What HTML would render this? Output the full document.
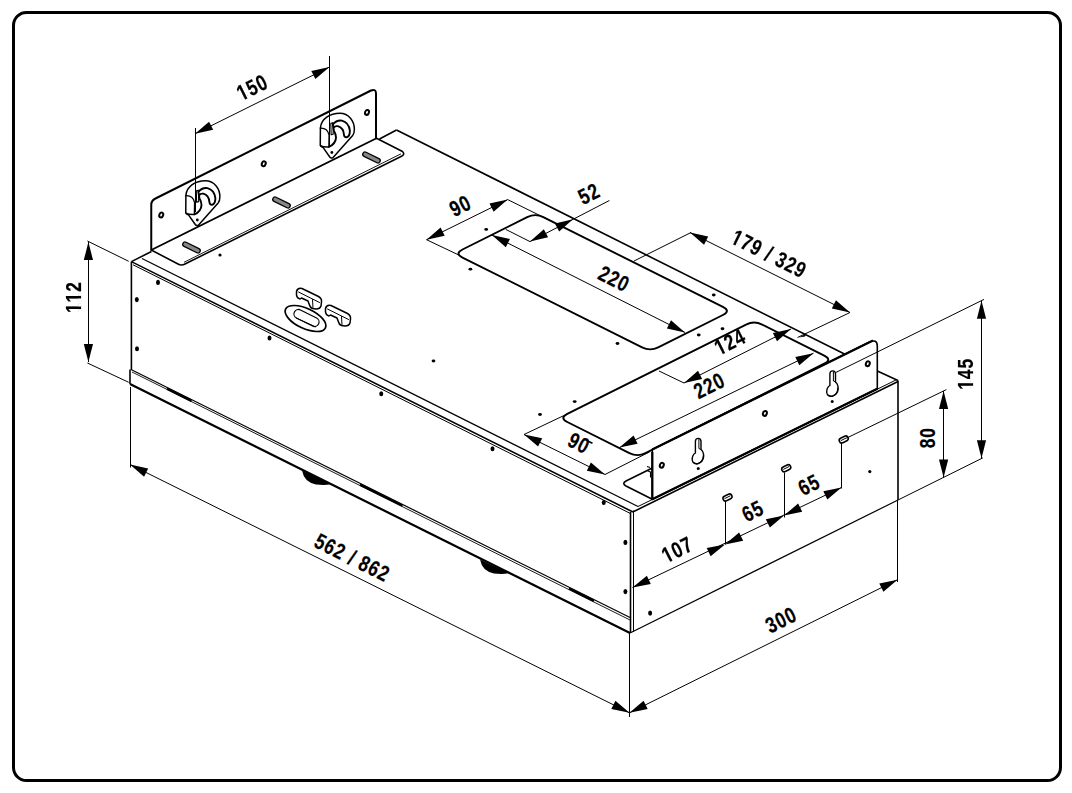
<!DOCTYPE html>
<html><head><meta charset="utf-8"><style>
html,body{margin:0;padding:0;background:#fff;}
svg{display:block;}
text{font-family:"Liberation Sans",sans-serif;}
</style></head><body>
<svg width="1072" height="793" viewBox="0 0 1072 793">
<rect width="1072" height="793" fill="#fff"/>
<rect x="13.5" y="12.5" width="1047" height="768" rx="13" fill="none" stroke="#000" stroke-width="3"/>
<line x1="131.4" y1="261.6" x2="633" y2="512" stroke="#000" stroke-width="1.6"/>
<line x1="133" y1="264.8" x2="631" y2="513.8" stroke="#000" stroke-width="1.0"/>
<line x1="142" y1="258.5" x2="638" y2="506.5" stroke="#000" stroke-width="1.2"/>
<line x1="131.4" y1="261.6" x2="151.5" y2="251.5" stroke="#000" stroke-width="1.6"/>
<line x1="379.5" y1="139" x2="396.5" y2="130" stroke="#000" stroke-width="1.6"/>
<line x1="396.5" y1="130" x2="845" y2="354.3" stroke="#000" stroke-width="1.6"/>
<line x1="877.3" y1="371" x2="898" y2="380.5" stroke="#000" stroke-width="1.6"/>
<line x1="633.8" y1="511.5" x2="898" y2="381.5" stroke="#000" stroke-width="1.6"/>
<line x1="638" y1="506.5" x2="897" y2="379.5" stroke="#000" stroke-width="1.0"/>
<line x1="131.4" y1="261.6" x2="131.4" y2="370" stroke="#000" stroke-width="1.6"/>
<line x1="630.5" y1="512" x2="630.5" y2="633" stroke="#000" stroke-width="1.6"/>
<line x1="633.5" y1="510.5" x2="633.5" y2="632" stroke="#000" stroke-width="1.0"/>
<line x1="898" y1="380.5" x2="898" y2="500" stroke="#000" stroke-width="1.6"/>
<line x1="130" y1="369.5" x2="130" y2="384" stroke="#000" stroke-width="1.6"/>
<line x1="131" y1="369.5" x2="630" y2="617.5" stroke="#000" stroke-width="1.2"/>
<line x1="132" y1="372" x2="630" y2="620" stroke="#000" stroke-width="0.9"/>
<line x1="130" y1="384" x2="630" y2="633" stroke="#000" stroke-width="2.2"/>
<line x1="167" y1="388.69" x2="191.5" y2="400.87" stroke="#000" stroke-width="2.4"/>
<line x1="360" y1="484.61" x2="402.5" y2="505.74" stroke="#000" stroke-width="2.4"/>
<line x1="569" y1="588.49" x2="594" y2="600.91" stroke="#000" stroke-width="2.4"/>
<line x1="630" y1="633" x2="898" y2="500" stroke="#000" stroke-width="1.2"/>
<path d="M302 470.5 Q304 482 316 484.5 Q326 485.5 331 484 Z" fill="#000"/>
<path d="M480 559.5 Q482 571 494 573.5 Q504 574.5 509 573 Z" fill="#000"/>
<path d="M462.5 257.53 Q454.45 253.5 462.5 249.48 L527.2 217.12 Q535.25 213.1 543.3 217.13 L722.9 306.97 Q730.95 311 722.9 315.02 L658.2 347.38 Q650.15 351.4 642.1 347.37 Z" fill="none" stroke="#000" stroke-width="1.9" stroke-linejoin="round" stroke-linecap="round"/>
<path d="M567.3 422.02 Q559.25 418 567.3 413.97 L746.05 324.58 Q754.1 320.55 762.15 324.57 L824.25 355.63 Q832.3 359.65 824.25 363.68 L645.5 453.07 Q637.45 457.1 629.4 453.08 Z" fill="none" stroke="#000" stroke-width="1.9" stroke-linejoin="round" stroke-linecap="round"/>
<path d="M151.25 250 L151.25 205 Q151.25 200.5 155.5 198.5 L371 90.5 Q376 88.5 376 93.5 L376 138.5" fill="none" stroke="#000" stroke-width="2.0" stroke-linejoin="round" stroke-linecap="round"/>
<line x1="151.25" y1="250" x2="376" y2="138.5" stroke="#000" stroke-width="1.8"/>
<path d="M151.25 250 L178 264 Q181.5 266 185 264 L401 156.5 Q405.5 154.5 402.5 151.5 L377 138.5" fill="none" stroke="#000" stroke-width="1.6" stroke-linejoin="round" stroke-linecap="round"/>
<line x1="184" y1="262.3" x2="401" y2="153.8" stroke="#000" stroke-width="0.9"/>
<rect x="182" y="245.2" width="19" height="4.6" rx="2.3" fill="#888" stroke="#000" stroke-width="1.3" transform="rotate(26.57 191.5 247.5)"/>
<rect x="272" y="200.2" width="19" height="4.6" rx="2.3" fill="#888" stroke="#000" stroke-width="1.3" transform="rotate(26.57 281.5 202.5)"/>
<rect x="362" y="155.2" width="19" height="4.6" rx="2.3" fill="#888" stroke="#000" stroke-width="1.3" transform="rotate(26.57 371.5 157.5)"/>
<ellipse cx="161.25" cy="215" rx="1.9" ry="2.5" fill="none" stroke="#000" stroke-width="2.0" transform="rotate(20 161.25 215)"/>
<ellipse cx="263.75" cy="163.75" rx="1.9" ry="2.5" fill="none" stroke="#000" stroke-width="2.0" transform="rotate(20 263.75 163.75)"/>
<ellipse cx="367" cy="112.4" rx="1.9" ry="2.5" fill="none" stroke="#000" stroke-width="2.0" transform="rotate(20 367 112.4)"/>
<circle cx="220" cy="255" r="1.6" fill="#000"/>
<path d="M185.9 195.38 C186.6 186.37 195.61 180.82 205.32 180.82 C214.33 180.82 219.88 188.45 219.88 196.77 Q219.88 200.93 218.15 203.01 L198.38 225.2 Q196.3 225.9 195.26 224.51 L188.68 215.15 Q185.9 214.11 185.76 212.72 Z" fill="none" stroke="#000" stroke-width="1.5" stroke-linejoin="round" stroke-linecap="round"/>
<path d="M185.9 195.73 Q192.84 195.38 194.57 202.32 L194.36 214.46 Q189.37 214.8 185.9 213.07" fill="none" stroke="#000" stroke-width="1.3" stroke-linejoin="round" stroke-linecap="round"/>
<path d="M194.36 214.46 Q201.16 211.33 201.51 205.09 Q201.51 201.63 199.43 198.16 L198.38 191.92 Q201.85 187.41 207.4 188.1 Q214.33 189.84 215.38 198.16 Q215.38 203.71 212.25 204.75 Q209.83 205.09 209.48 202.32 Q209.13 195.38 203.24 193.65 Q200.47 193.3 199.77 194.69" fill="none" stroke="#000" stroke-width="1.9" stroke-linejoin="round" stroke-linecap="round"/>
<path d="M196.3 190.88 L198.38 190.18 L198.73 201.63 L196.65 202.32 Z" fill="none" stroke="#000" stroke-width="1.1" stroke-linejoin="round" stroke-linecap="round"/>
<circle cx="197.34" cy="220" r="1.4" fill="#000"/>
<path d="M320.4 127.88 C321.1 118.87 330.11 113.32 339.82 113.32 C348.83 113.32 354.38 120.95 354.38 129.27 Q354.38 133.43 352.65 135.51 L332.88 157.7 Q330.8 158.4 329.76 157.01 L323.18 147.65 Q320.4 146.61 320.26 145.22 Z" fill="none" stroke="#000" stroke-width="1.5" stroke-linejoin="round" stroke-linecap="round"/>
<path d="M320.4 128.23 Q327.34 127.88 329.07 134.82 L328.86 146.96 Q323.87 147.3 320.4 145.57" fill="none" stroke="#000" stroke-width="1.3" stroke-linejoin="round" stroke-linecap="round"/>
<path d="M328.86 146.96 Q335.66 143.83 336.01 137.59 Q336.01 134.13 333.93 130.66 L332.88 124.42 Q336.35 119.91 341.9 120.6 Q348.83 122.34 349.88 130.66 Q349.88 136.21 346.75 137.25 Q344.33 137.59 343.98 134.82 Q343.63 127.88 337.74 126.15 Q334.97 125.8 334.27 127.19" fill="none" stroke="#000" stroke-width="1.9" stroke-linejoin="round" stroke-linecap="round"/>
<path d="M330.8 123.38 L332.88 122.68 L333.23 134.13 L331.15 134.82 Z" fill="none" stroke="#000" stroke-width="1.1" stroke-linejoin="round" stroke-linecap="round"/>
<circle cx="331.84" cy="152.5" r="1.4" fill="#000"/>
<ellipse cx="305.5" cy="318.5" rx="22" ry="10" fill="none" stroke="#000" stroke-width="1.7" transform="rotate(25 305.5 318.5)"/>
<rect x="293" y="313.5" width="27" height="9" rx="4.5" fill="none" stroke="#000" stroke-width="1.2" transform="rotate(26.57 306.5 318)"/>
<line x1="296" y1="318" x2="316" y2="327" stroke="#000" stroke-width="1.0"/>
<path d="M296.5 291.5 Q297.5 287.5 302 288.5 L318.5 296.5 Q322 298.5 321.5 302 L321 306 Q320 309 316 309 L312.5 308.5 Q310 307.5 309.5 305 L308 301 L301.5 298 L300 299 Q297 298.5 296.5 295 Z" fill="none" stroke="#000" stroke-width="1.5" stroke-linejoin="round" stroke-linecap="round"/>
<path d="M298.5 292 L319.5 302.5" fill="none" stroke="#000" stroke-width="1.0" stroke-linejoin="round" stroke-linecap="round"/>
<path d="M312.5 299.5 L313 308" fill="none" stroke="#000" stroke-width="1.0" stroke-linejoin="round" stroke-linecap="round"/>
<path d="M325.5 308.5 Q326.5 304.5 331 305.5 L347.5 313.5 Q351 315.5 350.5 319 L350 323 Q349 326 345 326 L341.5 325.5 Q339 324.5 338.5 322 L337 318 L330.5 315 L329 316 Q326 315.5 325.5 312 Z" fill="none" stroke="#000" stroke-width="1.5" stroke-linejoin="round" stroke-linecap="round"/>
<path d="M327.5 309 L348.5 319.5" fill="none" stroke="#000" stroke-width="1.0" stroke-linejoin="round" stroke-linecap="round"/>
<path d="M341.5 316.5 L342 325" fill="none" stroke="#000" stroke-width="1.0" stroke-linejoin="round" stroke-linecap="round"/>
<ellipse cx="486.2" cy="229.4" rx="1.9" ry="1.4" fill="#000"/>
<ellipse cx="470.4" cy="269.2" rx="1.9" ry="1.4" fill="#000"/>
<ellipse cx="540" cy="414.5" rx="1.9" ry="1.4" fill="#000"/>
<ellipse cx="574.7" cy="401.6" rx="1.9" ry="1.4" fill="#000"/>
<ellipse cx="617.5" cy="343.5" rx="1.9" ry="1.4" fill="#000"/>
<ellipse cx="713.75" cy="295" rx="1.9" ry="1.4" fill="#000"/>
<ellipse cx="698.75" cy="335" rx="1.9" ry="1.4" fill="#000"/>
<ellipse cx="722.5" cy="328.75" rx="1.9" ry="1.4" fill="#000"/>
<ellipse cx="433.5" cy="361" rx="1.9" ry="1.4" fill="#000"/>
<path d="M799 337.5 L806.5 333.5 L805 336.5 Z" fill="#000"/>
<ellipse cx="137" cy="348.75" rx="2" ry="2.6" fill="#000"/>
<ellipse cx="136.8" cy="299.6" rx="2" ry="2.6" fill="#000"/>
<ellipse cx="158" cy="282.4" rx="2" ry="2.6" fill="#000"/>
<ellipse cx="269.5" cy="338" rx="2" ry="2.6" fill="#000"/>
<ellipse cx="381.25" cy="393.75" rx="2" ry="2.6" fill="#000"/>
<ellipse cx="492.5" cy="448.75" rx="2" ry="2.6" fill="#000"/>
<ellipse cx="603.75" cy="502.5" rx="2" ry="2.6" fill="#000"/>
<ellipse cx="625.4" cy="542.4" rx="2" ry="2.6" fill="#000"/>
<ellipse cx="625.4" cy="591.6" rx="2" ry="2.6" fill="#000"/>
<ellipse cx="650.1" cy="613.1" rx="2" ry="2.6" fill="#000"/>
<rect x="722.75" y="495" width="9.5" height="5" rx="2.5" fill="none" stroke="#000" stroke-width="1.5" transform="rotate(-26.57 727.5 497.5)"/>
<line x1="724.5" y1="498.7" x2="730.5" y2="495.7" stroke="#000" stroke-width="1.0"/>
<rect x="781.5" y="465.75" width="9.5" height="5" rx="2.5" fill="none" stroke="#000" stroke-width="1.5" transform="rotate(-26.57 786.25 468.25)"/>
<line x1="783.25" y1="469.45" x2="789.25" y2="466.45" stroke="#000" stroke-width="1.0"/>
<rect x="839" y="437" width="9.5" height="5" rx="2.5" fill="none" stroke="#000" stroke-width="1.5" transform="rotate(-26.57 843.75 439.5)"/>
<line x1="840.75" y1="440.7" x2="846.75" y2="437.7" stroke="#000" stroke-width="1.0"/>
<circle cx="869.8" cy="471.6" r="1.6" fill="#000"/>
<path d="M652.3 499.3 L626 486 Q621.5 483.5 626 481 L652.3 468" fill="none" stroke="#000" stroke-width="1.6" stroke-linejoin="round" stroke-linecap="round"/>
<path d="M652.3 499.3 L652.3 449.5 L869 342.3 Q877.3 338.5 877.3 346 L877.3 388.8 Z" fill="#fff" stroke="#000" stroke-width="1.6" stroke-linejoin="round" stroke-linecap="round"/>
<line x1="652.3" y1="449.5" x2="873" y2="340.4" stroke="#000" stroke-width="2.2"/>
<line x1="652.3" y1="452" x2="652.3" y2="499.3" stroke="#000" stroke-width="2.2"/>
<line x1="652.3" y1="499.3" x2="877.3" y2="388.8" stroke="#000" stroke-width="2.2"/>
<path d="M695.4 453 L695.4 441.5 Q695.4 438.4 698.2 438.4 Q701 438.4 701 441.5 L701 449.5 Q704 452 703.6 457 Q703 462 698 463.6 Q693 464.5 692.2 460 Q692 455 695.4 453 Z" fill="none" stroke="#000" stroke-width="1.4" stroke-linejoin="round" stroke-linecap="round"/>
<path d="M698.9 439.2 L698.9 448.5 L701 449.5" fill="none" stroke="#000" stroke-width="1.0" stroke-linejoin="round" stroke-linecap="round"/>
<path d="M703.4 455.5 Q703 462 698 463.6 Q695 464.3 693 462.2" fill="none" stroke="#000" stroke-width="1.2" stroke-linejoin="round" stroke-linecap="round"/>
<path d="M829.9 385.5 L829.9 374 Q829.9 370.9 832.7 370.9 Q835.5 370.9 835.5 374 L835.5 382 Q838.5 384.5 838.1 389.5 Q837.5 394.5 832.5 396.1 Q827.5 397 826.7 392.5 Q826.5 387.5 829.9 385.5 Z" fill="none" stroke="#000" stroke-width="1.4" stroke-linejoin="round" stroke-linecap="round"/>
<path d="M833.4 371.7 L833.4 381 L835.5 382" fill="none" stroke="#000" stroke-width="1.0" stroke-linejoin="round" stroke-linecap="round"/>
<path d="M837.9 388 Q837.5 394.5 832.5 396.1 Q829.5 396.8 827.5 394.7" fill="none" stroke="#000" stroke-width="1.2" stroke-linejoin="round" stroke-linecap="round"/>
<ellipse cx="661.8" cy="465.2" rx="1.9" ry="2.5" fill="none" stroke="#000" stroke-width="2.0" transform="rotate(20 661.8 465.2)"/>
<ellipse cx="867.8" cy="363.7" rx="1.9" ry="2.5" fill="none" stroke="#000" stroke-width="2.0" transform="rotate(20 867.8 363.7)"/>
<ellipse cx="764.9" cy="413.4" rx="1.9" ry="2.5" fill="none" stroke="#000" stroke-width="2.0" transform="rotate(20 764.9 413.4)"/>
<line x1="647" y1="466.5" x2="650" y2="467.5" stroke="#000" stroke-width="1.3"/>
<path d="M648 471 L650.5 472 L650.5 477" fill="none" stroke="#000" stroke-width="1.1" stroke-linejoin="round" stroke-linecap="round"/>
<circle cx="698.25" cy="468.5" r="1.5" fill="#000"/>
<circle cx="832.2" cy="401.6" r="1.5" fill="#000"/>
<line x1="195.5" y1="128" x2="195.5" y2="212" stroke="#000" stroke-width="1.0"/>
<line x1="329.5" y1="56" x2="329.5" y2="147" stroke="#000" stroke-width="1.0"/>
<line x1="195" y1="133.75" x2="329.5" y2="67" stroke="#000" stroke-width="1.0"/>
<path d="M195 133.75 L209.08 121.63 L213.17 129.87 Z" fill="#000"/>
<path d="M329.5 67 L315.42 79.12 L311.33 70.88 Z" fill="#000"/>
<g transform="translate(252 87.6) rotate(-26.57) scale(0.79 1)"><mask id="m1" maskUnits="userSpaceOnUse" x="-300" y="-60" width="600" height="120"><rect x="-300" y="-60" width="600" height="120" fill="#fff"/><rect x="-18.97" y="4.87" width="4.45" height="3.5" fill="#000"/><rect x="-11.3" y="4.87" width="4.27" height="3.5" fill="#000"/></mask><text x="-19.55" y="7.57" font-family="Liberation Sans" font-weight="bold" font-size="22" letter-spacing="1.2" style="font-kerning:none" fill="#000" stroke="#000" stroke-width="0.2" xml:space="preserve" mask="url(#m1)">150</text></g>
<line x1="87.4" y1="241" x2="128.7" y2="261.3" stroke="#000" stroke-width="1.0"/>
<line x1="87.4" y1="363" x2="128.7" y2="382.3" stroke="#000" stroke-width="1.0"/>
<line x1="88.5" y1="242.1" x2="88.5" y2="362.1" stroke="#000" stroke-width="1.0"/>
<path d="M88.4 242.1 L93 260.1 L83.8 260.1 Z" fill="#000"/>
<path d="M88.4 362.1 L83.8 344.1 L93 344.1 Z" fill="#000"/>
<g transform="translate(73.3 297.6) rotate(-90) scale(0.79 1)"><mask id="m2" maskUnits="userSpaceOnUse" x="-300" y="-60" width="600" height="120"><rect x="-300" y="-60" width="600" height="120" fill="#fff"/><rect x="-18.97" y="4.87" width="4.45" height="3.5" fill="#000"/><rect x="-11.3" y="4.87" width="4.27" height="3.5" fill="#000"/><rect x="-5.53" y="4.87" width="4.45" height="3.5" fill="#000"/><rect x="2.14" y="4.87" width="4.27" height="3.5" fill="#000"/></mask><text x="-19.55" y="7.57" font-family="Liberation Sans" font-weight="bold" font-size="22" letter-spacing="1.2" style="font-kerning:none" fill="#000" stroke="#000" stroke-width="0.2" xml:space="preserve" mask="url(#m2)">112</text></g>
<line x1="426.5" y1="239.7" x2="460" y2="255.6" stroke="#000" stroke-width="1.0"/>
<line x1="507.7" y1="199.6" x2="550" y2="220.5" stroke="#000" stroke-width="1.0"/>
<line x1="426.5" y1="239.7" x2="507.7" y2="199.6" stroke="#000" stroke-width="1.0"/>
<path d="M426.5 239.7 L440.6 227.61 L444.68 235.85 Z" fill="#000"/>
<path d="M507.7 199.6 L493.6 211.69 L489.52 203.45 Z" fill="#000"/>
<g transform="translate(460 206) rotate(-26.57) scale(0.79 1)"><text x="-12.84" y="7.57" font-family="Liberation Sans" font-weight="bold" font-size="22" letter-spacing="1.2" style="font-kerning:none" fill="#000" stroke="#000" stroke-width="0.2" xml:space="preserve">90</text></g>
<line x1="505.8" y1="229.4" x2="530" y2="241.6" stroke="#000" stroke-width="1.0"/>
<line x1="530" y1="241.6" x2="609.4" y2="200.5" stroke="#000" stroke-width="1.0"/>
<path d="M530 241.6 L543.84 229.2 L548.09 237.36 Z" fill="#000"/>
<path d="M573 219.2 L559.16 231.6 L554.91 223.44 Z" fill="#000"/>
<g transform="translate(588.8 194) rotate(-26.57) scale(0.79 1)"><text x="-12.84" y="7.57" font-family="Liberation Sans" font-weight="bold" font-size="22" letter-spacing="1.2" style="font-kerning:none" fill="#000" stroke="#000" stroke-width="0.2" xml:space="preserve">52</text></g>
<line x1="491.8" y1="235" x2="685" y2="332.5" stroke="#000" stroke-width="1.0"/>
<path d="M491.8 235 L509.94 239 L505.8 247.22 Z" fill="#000"/>
<path d="M685 332.5 L666.86 328.5 L671 320.28 Z" fill="#000"/>
<g transform="translate(613.75 278.75) rotate(26.57) scale(0.79 1)"><text x="-19.55" y="7.57" font-family="Liberation Sans" font-weight="bold" font-size="22" letter-spacing="1.2" style="font-kerning:none" fill="#000" stroke="#000" stroke-width="0.2" xml:space="preserve">220</text></g>
<line x1="691" y1="232.5" x2="634" y2="261" stroke="#000" stroke-width="1.0"/>
<line x1="850" y1="312.5" x2="797.5" y2="337.5" stroke="#000" stroke-width="1.0"/>
<line x1="690" y1="232.5" x2="850" y2="312.5" stroke="#000" stroke-width="1.0"/>
<path d="M690 232.5 L708.16 236.44 L704.04 244.66 Z" fill="#000"/>
<path d="M850 312.5 L831.84 308.56 L835.96 300.34 Z" fill="#000"/>
<g transform="translate(768.75 253.75) rotate(26.57) scale(0.79 1)"><mask id="m3" maskUnits="userSpaceOnUse" x="-300" y="-60" width="600" height="120"><rect x="-300" y="-60" width="600" height="120" fill="#fff"/><rect x="-50.09" y="4.87" width="4.45" height="3.5" fill="#000"/><rect x="-42.42" y="4.87" width="4.27" height="3.5" fill="#000"/></mask><text x="-50.67" y="7.57" font-family="Liberation Sans" font-weight="bold" font-size="22" letter-spacing="1.2" style="font-kerning:none" fill="#000" stroke="#000" stroke-width="0.2" xml:space="preserve" mask="url(#m3)">179 / 329</text></g>
<line x1="659" y1="371" x2="684" y2="383" stroke="#000" stroke-width="1.0"/>
<line x1="684" y1="383" x2="791" y2="329" stroke="#000" stroke-width="1.0"/>
<path d="M684 383 L698 370.78 L702.14 379 Z" fill="#000"/>
<path d="M791 329 L777 341.22 L772.86 333 Z" fill="#000"/>
<g transform="translate(729.6 342) rotate(-26.57) scale(0.79 1)"><mask id="m4" maskUnits="userSpaceOnUse" x="-300" y="-60" width="600" height="120"><rect x="-300" y="-60" width="600" height="120" fill="#fff"/><rect x="-18.97" y="4.87" width="4.45" height="3.5" fill="#000"/><rect x="-11.3" y="4.87" width="4.27" height="3.5" fill="#000"/></mask><text x="-19.55" y="7.57" font-family="Liberation Sans" font-weight="bold" font-size="22" letter-spacing="1.2" style="font-kerning:none" fill="#000" stroke="#000" stroke-width="0.2" xml:space="preserve" mask="url(#m4)">124</text></g>
<line x1="619.4" y1="447.6" x2="813.5" y2="353.2" stroke="#000" stroke-width="1.0"/>
<path d="M619.4 447.6 L633.58 435.59 L637.6 443.86 Z" fill="#000"/>
<path d="M813.5 353.2 L799.32 365.21 L795.3 356.94 Z" fill="#000"/>
<g transform="translate(709 385.8) rotate(-26.57) scale(0.79 1)"><text x="-19.55" y="7.57" font-family="Liberation Sans" font-weight="bold" font-size="22" letter-spacing="1.2" style="font-kerning:none" fill="#000" stroke="#000" stroke-width="0.2" xml:space="preserve">220</text></g>
<line x1="524" y1="434.5" x2="563.6" y2="415.7" stroke="#000" stroke-width="1.0"/>
<line x1="605" y1="474.5" x2="649.3" y2="452" stroke="#000" stroke-width="1.0"/>
<line x1="524" y1="434.5" x2="605" y2="474.5" stroke="#000" stroke-width="1.0"/>
<path d="M524 434.5 L542.18 438.35 L538.1 446.59 Z" fill="#000"/>
<path d="M605 474.5 L586.82 470.65 L590.9 462.41 Z" fill="#000"/>
<g transform="translate(578.7 442.9) rotate(26.57) scale(0.79 1)"><text x="-12.84" y="7.57" font-family="Liberation Sans" font-weight="bold" font-size="22" letter-spacing="1.2" style="font-kerning:none" fill="#000" stroke="#000" stroke-width="0.2" xml:space="preserve">90</text></g>
<line x1="587" y1="440.8" x2="592.5" y2="443.3" stroke="#000" stroke-width="1.6"/>
<line x1="984" y1="299.4" x2="836" y2="372.4" stroke="#000" stroke-width="1.0"/>
<line x1="898" y1="500" x2="982.8" y2="457.9" stroke="#000" stroke-width="1.0"/>
<line x1="981.5" y1="300.8" x2="981.5" y2="458.2" stroke="#000" stroke-width="1.0"/>
<path d="M981.5 300.8 L986.1 318.8 L976.9 318.8 Z" fill="#000"/>
<path d="M981.5 458.2 L976.9 440.2 L986.1 440.2 Z" fill="#000"/>
<g transform="translate(965.3 374.3) rotate(-90) scale(0.79 1)"><mask id="m5" maskUnits="userSpaceOnUse" x="-300" y="-60" width="600" height="120"><rect x="-300" y="-60" width="600" height="120" fill="#fff"/><rect x="-18.97" y="4.87" width="4.45" height="3.5" fill="#000"/><rect x="-11.3" y="4.87" width="4.27" height="3.5" fill="#000"/></mask><text x="-19.55" y="7.57" font-family="Liberation Sans" font-weight="bold" font-size="22" letter-spacing="1.2" style="font-kerning:none" fill="#000" stroke="#000" stroke-width="0.2" xml:space="preserve" mask="url(#m5)">145</text></g>
<line x1="946.4" y1="389.6" x2="846.6" y2="438.1" stroke="#000" stroke-width="1.0"/>
<line x1="943.5" y1="391" x2="943.5" y2="477.5" stroke="#000" stroke-width="1.0"/>
<path d="M943.6 391 L948.2 409 L939 409 Z" fill="#000"/>
<path d="M943.6 477.5 L939 459.5 L948.2 459.5 Z" fill="#000"/>
<g transform="translate(927.5 438.2) rotate(-90) scale(0.79 1)"><text x="-12.84" y="7.57" font-family="Liberation Sans" font-weight="bold" font-size="22" letter-spacing="1.2" style="font-kerning:none" fill="#000" stroke="#000" stroke-width="0.2" xml:space="preserve">80</text></g>
<line x1="725.5" y1="501" x2="725.5" y2="544.5" stroke="#000" stroke-width="1.0"/>
<line x1="784.5" y1="472.5" x2="784.5" y2="517.5" stroke="#000" stroke-width="1.0"/>
<line x1="841.5" y1="442.5" x2="841.5" y2="488.5" stroke="#000" stroke-width="1.0"/>
<line x1="632.5" y1="587.5" x2="841.5" y2="487.5" stroke="#000" stroke-width="1.0"/>
<path d="M632.5 587.5 L646.88 575.74 L650.76 584.08 Z" fill="#000"/>
<path d="M725 544.5 L710.62 556.26 L706.74 547.92 Z" fill="#000"/>
<path d="M725 544.5 L739.12 532.43 L743.18 540.69 Z" fill="#000"/>
<path d="M784 515.5 L769.88 527.57 L765.82 519.31 Z" fill="#000"/>
<path d="M784 515.5 L798.17 503.48 L802.2 511.76 Z" fill="#000"/>
<path d="M841.5 487.5 L827.33 499.52 L823.3 491.24 Z" fill="#000"/>
<g transform="translate(677 549.7) rotate(-26.57) scale(0.79 1)"><mask id="m6" maskUnits="userSpaceOnUse" x="-300" y="-60" width="600" height="120"><rect x="-300" y="-60" width="600" height="120" fill="#fff"/><rect x="-18.97" y="4.87" width="4.45" height="3.5" fill="#000"/><rect x="-11.3" y="4.87" width="4.27" height="3.5" fill="#000"/></mask><text x="-19.55" y="7.57" font-family="Liberation Sans" font-weight="bold" font-size="22" letter-spacing="1.2" style="font-kerning:none" fill="#000" stroke="#000" stroke-width="0.2" xml:space="preserve" mask="url(#m6)">107</text></g>
<g transform="translate(752.5 511.25) rotate(-26.57) scale(0.79 1)"><text x="-12.84" y="7.57" font-family="Liberation Sans" font-weight="bold" font-size="22" letter-spacing="1.2" style="font-kerning:none" fill="#000" stroke="#000" stroke-width="0.2" xml:space="preserve">65</text></g>
<g transform="translate(808.75 485) rotate(-26.57) scale(0.79 1)"><text x="-12.84" y="7.57" font-family="Liberation Sans" font-weight="bold" font-size="22" letter-spacing="1.2" style="font-kerning:none" fill="#000" stroke="#000" stroke-width="0.2" xml:space="preserve">65</text></g>
<line x1="629.5" y1="633" x2="629.5" y2="717" stroke="#000" stroke-width="1.0"/>
<line x1="897.5" y1="500" x2="897.5" y2="582" stroke="#000" stroke-width="1.0"/>
<line x1="629.5" y1="712.8" x2="897.5" y2="579.7" stroke="#000" stroke-width="1.0"/>
<path d="M629.5 712.8 L643.58 700.67 L647.67 708.91 Z" fill="#000"/>
<path d="M897.5 579.7 L883.42 591.83 L879.33 583.59 Z" fill="#000"/>
<g transform="translate(780.6 620) rotate(-26.57) scale(0.79 1)"><text x="-19.55" y="7.57" font-family="Liberation Sans" font-weight="bold" font-size="22" letter-spacing="1.2" style="font-kerning:none" fill="#000" stroke="#000" stroke-width="0.2" xml:space="preserve">300</text></g>
<line x1="130.5" y1="387" x2="130.5" y2="467.5" stroke="#000" stroke-width="1.0"/>
<line x1="130" y1="464.5" x2="629.5" y2="712.8" stroke="#000" stroke-width="1.0"/>
<path d="M130 464.5 L148.17 468.39 L144.07 476.63 Z" fill="#000"/>
<path d="M629.5 712.8 L611.33 708.91 L615.43 700.67 Z" fill="#000"/>
<g transform="translate(352 557.5) rotate(26.57) scale(0.79 1)"><text x="-50.67" y="7.57" font-family="Liberation Sans" font-weight="bold" font-size="22" letter-spacing="1.2" style="font-kerning:none" fill="#000" stroke="#000" stroke-width="0.2" xml:space="preserve">562 / 862</text></g>
</svg></body></html>
